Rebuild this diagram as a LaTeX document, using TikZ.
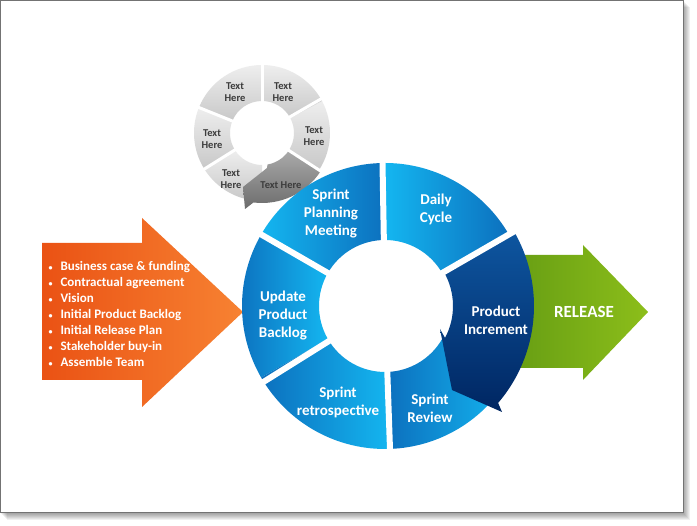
\documentclass[tikz,border=0pt]{standalone}
\usepackage{fontspec}
\setmainfont{Carlito}
\usetikzlibrary{calc}

\definecolor{cyanlt}{RGB}{20,182,240}
\definecolor{cyandk}{RGB}{12,112,190}
\definecolor{navylt}{RGB}{14,86,160}
\definecolor{navydk}{RGB}{0,38,98}
\definecolor{orangelt}{RGB}{247,130,50}
\definecolor{orangedk}{RGB}{234,82,20}
\definecolor{greenlt}{RGB}{140,190,26}
\definecolor{greendk}{RGB}{94,150,18}
\definecolor{graylt}{RGB}{238,238,238}
\definecolor{graydk}{RGB}{200,200,200}
\definecolor{arrowlt}{RGB}{170,170,170}
\definecolor{arrowdk}{RGB}{108,108,108}
\definecolor{textgray}{RGB}{60,60,60}

% annular piece: centre, start angle, end angle, inner radius, outer radius
\newcommand{\ringpart}[5]{($(#1)+(#2:#5)$) arc[start angle=#2, end angle=#3, radius=#5]
  -- ($(#1)+(#3:#4)$) arc[start angle=#3, end angle=#2, radius=#4] -- cycle}
\newcommand{\dotitem}{{\fontsize{8}{8}\selectfont\textbullet}\hspace{8pt}}

\tikzset{
  ringtext/.style={text=white, font=\bfseries\fontsize{15}{18}\selectfont, align=center},
  smalltext/.style={text=textgray, font=\bfseries\fontsize{10.5}{12}\selectfont, align=center},
  listtext/.style={text=white, font=\bfseries\fontsize{13}{16}\selectfont, align=left},
  gapline/.style={white, line width=6pt},
  smallgap/.style={white, line width=3pt},
  graypart/.style={top color=graylt, bottom color=graydk},
}

\begin{document}
\begin{tikzpicture}[x=1pt,y=1pt]
\useasboundingbox (0,0) rectangle (697,526);

% frame with shadow
\foreach \s in {1,...,7}
  \fill[black, opacity=0.06] (\s,13-\s) rectangle (683+\s,525.5-\s);
\filldraw[fill=white, draw=black!55, line width=1pt] (0.5,13) rectangle (683,525.5);

\coordinate (c) at (385,220);
\coordinate (g) at (262,393);

% small grey ring
\path[graypart] \ringpart{g}{-33}{28}{32pt}{68pt};
\path[graypart] \ringpart{g}{28}{90}{32pt}{68pt};
\path[graypart] \ringpart{g}{90}{158}{32pt}{68pt};
\path[graypart] \ringpart{g}{158}{212}{32pt}{68pt};
\path[graypart] \ringpart{g}{212}{270}{32pt}{68pt};
\foreach \a in {30,90,158,212}
  \draw[smallgap] ($(g)+(\a:28pt)$) -- ($(g)+(\a:72pt)$);
\path[top color=arrowlt, bottom color=arrowdk]
  ($(g)+(-33:70pt)$) arc[start angle=-33, end angle=-97, radius=70pt]
  -- (245,317) -- (243,339) -- (267,358)
  -- ($(g)+(-80:32pt)$) arc[start angle=-80, end angle=-33, radius=32pt] -- cycle;
\draw[smallgap] ($(g)+(-33:28pt)$) -- ($(g)+(-33:73pt)$);

\node[smalltext] (t1) at (235,434) {Text\\Here};
\node[smalltext] (t2) at (283,434) {Text\\Here};
\node[smalltext] (t3) at (314,390) {Text\\Here};
\node[smalltext] (t4) at (212,387) {Text\\Here};
\node[smalltext] (t5) at (231,347) {Text\\Here};
\node[smalltext] (t6) at (281,341) {Text Here};

% release arrow
\path[left color=greendk, right color=greenlt]
  (480,158) -- (480,271) -- (583,271) -- (583,281) -- (648,214)
  -- (583,146) -- (583,158) -- cycle;
\node[text=white, font=\bfseries\fontsize{17}{18}\selectfont] (release) at (584,214) {RELEASE};

% input arrow
\path[left color=orangedk, right color=orangelt]
  (42,146) -- (42,283) -- (142,283) -- (142,308) -- (243,214)
  -- (142,119) -- (142,146) -- cycle;
\node[listtext, anchor=west] (inputs) at (45,212) {%
  \dotitem Business case \& funding\\
  \dotitem Contractual agreement\\
  \dotitem Vision\\
  \dotitem Initial Product Backlog\\
  \dotitem Initial Release Plan\\
  \dotitem Stakeholder buy-in\\
  \dotitem Assemble Team};

% sprint cycle
\path[left color=cyanlt, right color=cyandk] \ringpart{c}{90}{150}{66pt}{143pt};
\path[left color=cyandk, right color=cyanlt] \ringpart{c}{150}{210}{66pt}{143pt};
\path[left color=cyandk, right color=cyanlt] \ringpart{c}{210}{272}{66pt}{143pt};
\path[left color=cyandk, right color=cyanlt] \ringpart{c}{272}{330}{66pt}{143pt};
\path[left color=cyanlt, right color=cyandk] \ringpart{c}{30}{90}{66pt}{143pt};
\path[top color=navylt, bottom color=navydk]
  ($(c)+(30:149pt)$) arc[start angle=30, end angle=-40.6, radius=149pt]
  -- (502,114) -- (452,136) -- (440,197)
  -- ($(c)+(-28:68pt)$) arc[start angle=-28, end angle=30, radius=68pt] -- cycle;
\foreach \a in {30,91,150,212,272}
  \draw[gapline] ($(c)+(\a:60pt)$) -- ($(c)+(\a:152pt)$);

\node[ringtext] (planning) at (331,312) {Sprint\\Planning\\Meeting};
\node[ringtext] (daily) at (436,317) {Daily\\Cycle};
\node[ringtext] (increment) at (496,206) {Product\\Increment};
\node[ringtext] (review) at (430,118) {Sprint\\Review};
\node[ringtext] (retro) at (338,124) {Sprint\\retrospective};
\node[ringtext] (update) at (283,210) {Update\\Product\\Backlog};
\end{tikzpicture}
\end{document}
